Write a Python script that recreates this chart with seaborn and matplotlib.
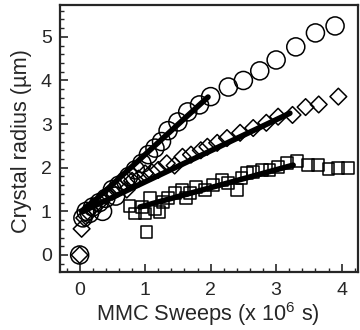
import matplotlib
matplotlib.use("Agg")
import matplotlib.pyplot as plt
import seaborn as sns
import pandas as pd
from matplotlib.ticker import MultipleLocator

sns.set_style("ticks")
plt.rcParams['font.family'] = ['Liberation Sans', 'DejaVu Sans']
plt.rcParams['mathtext.fontset'] = 'custom'
plt.rcParams['mathtext.rm'] = 'Liberation Sans'
plt.rcParams['mathtext.it'] = 'Liberation Sans'

# Circles series
circ_x = [0.0, 0.05, 0.1, 0.15, 0.2, 0.3, 0.35, 0.4, 0.5, 0.55, 0.6, 0.7, 0.75, 0.85,
          0.95, 1.05, 1.15, 1.25, 1.35, 1.5, 1.65, 1.83, 2.0, 2.27, 2.5, 2.75, 3.0,
          3.3, 3.6, 3.9]
circ_y = [0.0, 0.85, 1.0, 0.95, 1.1, 1.2, 1.0, 1.3, 1.5, 1.35, 1.6, 1.7, 1.8, 1.95,
          2.1, 2.3, 2.45, 2.6, 2.85, 3.05, 3.28, 3.44, 3.63, 3.85, 4.0, 4.22, 4.47,
          4.77, 5.09, 5.25]

# Diamonds series
diam_x = [0.0, 0.03, 0.07, 0.12, 0.2, 0.3, 0.4, 0.5, 0.6, 0.72, 0.8, 0.9, 1.0, 1.1,
          1.2, 1.33, 1.45, 1.57, 1.7, 1.85, 1.95, 2.1, 2.25, 2.45, 2.65, 2.85, 3.03,
          3.25, 3.45, 3.65, 3.95]
diam_y = [0.0, 0.6, 0.85, 1.0, 1.1, 1.2, 1.35, 1.45, 1.55, 1.5, 1.7, 1.75, 1.87, 1.9,
          1.95, 2.1, 2.05, 2.25, 2.3, 2.4, 2.48, 2.57, 2.68, 2.8, 2.91, 3.03, 3.17,
          3.21, 3.39, 3.45, 3.63]

# Squares series
sq_x = [0.76, 0.85, 0.95, 1.0, 1.02, 1.07, 1.15, 1.22, 1.27, 1.35, 1.45, 1.56, 1.62,
        1.68, 1.78, 1.91, 2.04, 2.17, 2.27, 2.4, 2.47, 2.55, 2.65, 2.78, 2.9, 3.03,
        3.16, 3.32, 3.49, 3.64, 3.8, 3.95, 4.1]
sq_y = [1.12, 0.95, 1.1, 0.95, 0.53, 1.3, 1.05, 0.99, 1.22, 1.31, 1.42, 1.49, 1.3,
        1.42, 1.56, 1.49, 1.6, 1.72, 1.65, 1.49, 1.77, 1.88, 1.9, 1.95, 1.95, 2.02,
        2.1, 2.16, 2.06, 2.06, 1.97, 2.0, 1.99]

# Fit lines (endpoints)
fit_circ_x = [0.05, 1.96]
fit_circ_y = [1.0, 3.62]
fit_diam_x = [0.05, 3.21]
fit_diam_y = [1.0, 3.25]
fit_sq_x = [0.92, 3.26]
fit_sq_y = [1.1, 2.06]

fig = plt.figure(figsize=(3.6, 3.3), dpi=100)
ax = fig.add_axes([60/360, 1-272/330, 298/360, 267/330])

sns.scatterplot(x=circ_x, y=circ_y, ax=ax, marker='o', s=13**2,
                facecolor='none', edgecolor='black', linewidth=1.1, zorder=3)
sns.scatterplot(x=diam_x, y=diam_y, ax=ax, marker='D', s=8.5**2,
                facecolor='none', edgecolor='black', linewidth=1.1, zorder=3)
sns.scatterplot(x=sq_x, y=sq_y, ax=ax, marker='s', s=8.5**2,
                facecolor='none', edgecolor='black', linewidth=1.1, zorder=3)

for fx, fy in [(fit_circ_x, fit_circ_y), (fit_diam_x, fit_diam_y), (fit_sq_x, fit_sq_y)]:
    sns.lineplot(x=fx, y=fy, ax=ax, color='black', linewidth=4, zorder=4)

ax.set_xlim(-0.3, 4.25)
ax.set_ylim(-0.39, 5.73)
ax.xaxis.set_major_locator(MultipleLocator(1))
ax.xaxis.set_minor_locator(MultipleLocator(0.2))
ax.yaxis.set_major_locator(MultipleLocator(1))
ax.yaxis.set_minor_locator(MultipleLocator(0.2))
ax.tick_params(which='major', direction='in', length=6, width=1.2, labelsize=14,
               top=False, right=False)
ax.tick_params(axis='x', which='major', pad=7)
ax.tick_params(axis='y', which='major', pad=6)
ax.tick_params(which='minor', direction='in', length=3, width=1.0, top=False, right=False)
for sp in ax.spines.values():
    sp.set_linewidth(1.6)
    sp.set_visible(True)

ax.set_xlabel('MMC Sweeps (x 10$^{6}$ s)', fontsize=15.7)
ax.set_ylabel('Crystal radius (\u00b5m)', fontsize=15.7)
ax.xaxis.set_label_coords(0.497, -0.105)
ax.yaxis.set_label_coords(-0.094, 0.49)

fig.savefig('out.png', dpi=100)
